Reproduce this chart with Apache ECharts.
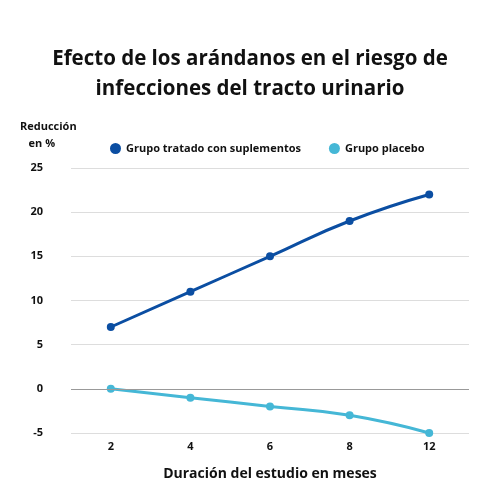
<!DOCTYPE html>
<html>
<head>
<meta charset="utf-8">
<script src="https://cdn.jsdelivr.net/npm/echarts@6/dist/echarts.min.js"></script>
<style>html,body{margin:0;padding:0;background:#fff}#chart{width:500px;height:500px}</style>
</head>
<body>
<div id="chart"></div>
<script>
// datos del gráfico
var meses = ["2", "4", "6", "8", "12"];
var tratado = [7, 11, 15, 19, 22];
var placebo = [0, -1, -2, -3, -5];
var FONT = "Open Sans";

var chart = echarts.init(document.getElementById("chart"));
chart.setOption({
    backgroundColor: "#fff",
    textStyle: { fontFamily: FONT },
    title: {
        text: "Efecto de los arándanos en el riesgo de\ninfecciones del tracto urinario",
        left: "center",
        top: 39,
        textStyle: { fontSize: 20.5, fontWeight: "bold", color: "#111", lineHeight: 30, fontFamily: FONT }
    },
    legend: {
        top: 138,
        left: 105,
        itemGap: 28,
        icon: "circle",
        itemWidth: 11,
        itemHeight: 11,
        textStyle: { fontSize: 11, fontWeight: "bold", color: "#111" },
        data: ["Grupo tratado con suplementos", "Grupo placebo"]
    },
    graphic: [{
        type: "text",
        left: 20,
        top: 118,
        style: { text: "Reducción\n   en %", font: "bold 11px 'Open Sans'", fill: "#111", lineHeight: 17 }
    }],
    grid: { left: 71, right: 31, top: 168, bottom: 67 },
    xAxis: {
        type: "category",
        data: meses,
        boundaryGap: true,
        axisLine: { show: false },
        axisTick: { show: false },
        axisLabel: { fontSize: 11, fontWeight: "bold", color: "#111", margin: 8 },
        name: "Duración del estudio en meses",
        nameLocation: "middle",
        nameGap: 34,
        nameTextStyle: { fontSize: 14, fontWeight: "bold", color: "#111" }
    },
    yAxis: {
        type: "value",
        min: -5,
        max: 25,
        interval: 5,
        axisLine: { show: false },
        axisTick: { show: false },
        axisLabel: { fontSize: 11, fontWeight: "bold", color: "#111", margin: 28 },
        splitLine: { lineStyle: { color: "#dddddd" } }
    },
    series: [{
        name: "Grupo tratado con suplementos",
        type: "line",
        data: tratado,
        smooth: true,
        symbol: "circle",
        symbolSize: 8,
        color: "#0b4ea2",
        lineStyle: { width: 3 }
    }, {
        name: "Grupo placebo",
        type: "line",
        data: placebo,
        smooth: true,
        symbol: "circle",
        symbolSize: 8,
        color: "#45b7d6",
        lineStyle: { width: 3 },
        markLine: {
            silent: true,
            symbol: "none",
            label: { show: false },
            lineStyle: { color: "#999", type: "solid", width: 1 },
            data: [{ yAxis: 0 }]
        }
    }]
});
</script>
</body>
</html>
